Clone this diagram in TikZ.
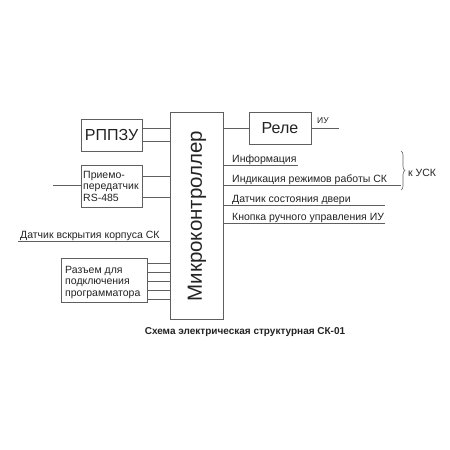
\documentclass[tikz,border=0pt]{standalone}
\usepackage{fontspec}
\setmainfont{Liberation Sans}
\usetikzlibrary{positioning, calc, decorations.pathreplacing}
\definecolor{WireGray}{RGB}{95, 95, 95}
\definecolor{InkDark}{RGB}{35, 35, 35}
\tikzset{
  blok/.style={draw=WireGray, line width=0.8pt, inner sep=0pt, text=InkDark},
  wire/.style={draw=WireGray, line width=0.8pt},
  lbl/.style={font=\fontsize{10.5}{11.5}\selectfont, text=InkDark, inner sep=0pt},
}

\begin{document}
\begin{tikzpicture}[x=1pt, y=-1pt]
    \useasboundingbox (0,0) rectangle (450,450);

    % blocks
    \node[blok, minimum width=53pt, minimum height=207pt] (mc) at (196.5,215.5) {};
    \node[rotate=90, font=\fontsize{20.5}{24}\selectfont, text=InkDark, inner sep=0pt] (mcname) at (197,216) {Микроконтроллер};
    \node[blok, minimum width=61pt, minimum height=32pt, font=\fontsize{16}{19}\selectfont] (rppzu) at (111.5,135) {РППЗУ};
    \node[blok, minimum width=61pt, minimum height=42pt] (prm) at (111.5,186) {};
    \node[lbl, align=left, anchor=north west] (prmtext) at (83,171) {Приемо-\\передатчик\\RS-485};
    \node[blok, minimum width=86pt, minimum height=44pt] (razem) at (104,280) {};
    \node[lbl, align=left, anchor=north west] (razemtext) at (65,266) {Разъем для\\подключения\\программатора};
    \node[blok, minimum width=62pt, minimum height=32pt, font=\fontsize{16}{19}\selectfont] (rele) at (280,128) {Реле};

    % left side
    \foreach \y in {128,141} \draw[wire] (rppzu.east |- 0,\y) -- (mc.west |- 0,\y);
    \foreach \y in {176,197} \draw[wire] (prm.east |- 0,\y) -- (mc.west |- 0,\y);
    \coordinate (rsin) at (53,185);
    \draw[wire] (rsin) -- (prm.west |- rsin);
    \coordinate (vskr) at (18,241);
    \draw[wire] (vskr) -- (mc.west |- vskr);
    \node[lbl, anchor=base west] (vskrtext) at (20,238) {Датчик вскрытия корпуса СК};
    \foreach \y in {263,272,281,290,299} \draw[wire] (razem.east |- 0,\y) -- (mc.west |- 0,\y);

    % right side
    \draw[wire] (mc.east |- rele) -- (rele.west);
    \coordinate (iu) at (339,128);
    \draw[wire] (rele.east) -- (iu);
    \node[font=\fontsize{8.5}{10}\selectfont, text=InkDark, anchor=base west, inner sep=0pt] (iutext) at (317,123) {ИУ};
    \foreach \y/\x/\txt in {165/298/Информация, 185/401/Индикация режимов работы СК, 205/385/Датчик состояния двери, 223/385/Кнопка ручного управления ИУ} {
        \coordinate (end\y) at (\x,\y);
        \draw[wire] (mc.east |- end\y) -- (end\y);
        \node[lbl, anchor=base west] (sig\y) at (232,\y-3) {\txt};
    }
    \draw[wire, line width=0.6pt, decorate, decoration={brace, amplitude=4pt}] (401,151) -- (401,190);
    \node[lbl, anchor=base west] (usk) at (408,176) {к УСК};

    \node[font=\fontsize{10}{12}\selectfont\bfseries, text=InkDark] (caption) at (245,332.5) {Схема электрическая структурная СК-01};
\end{tikzpicture}
\end{document}
